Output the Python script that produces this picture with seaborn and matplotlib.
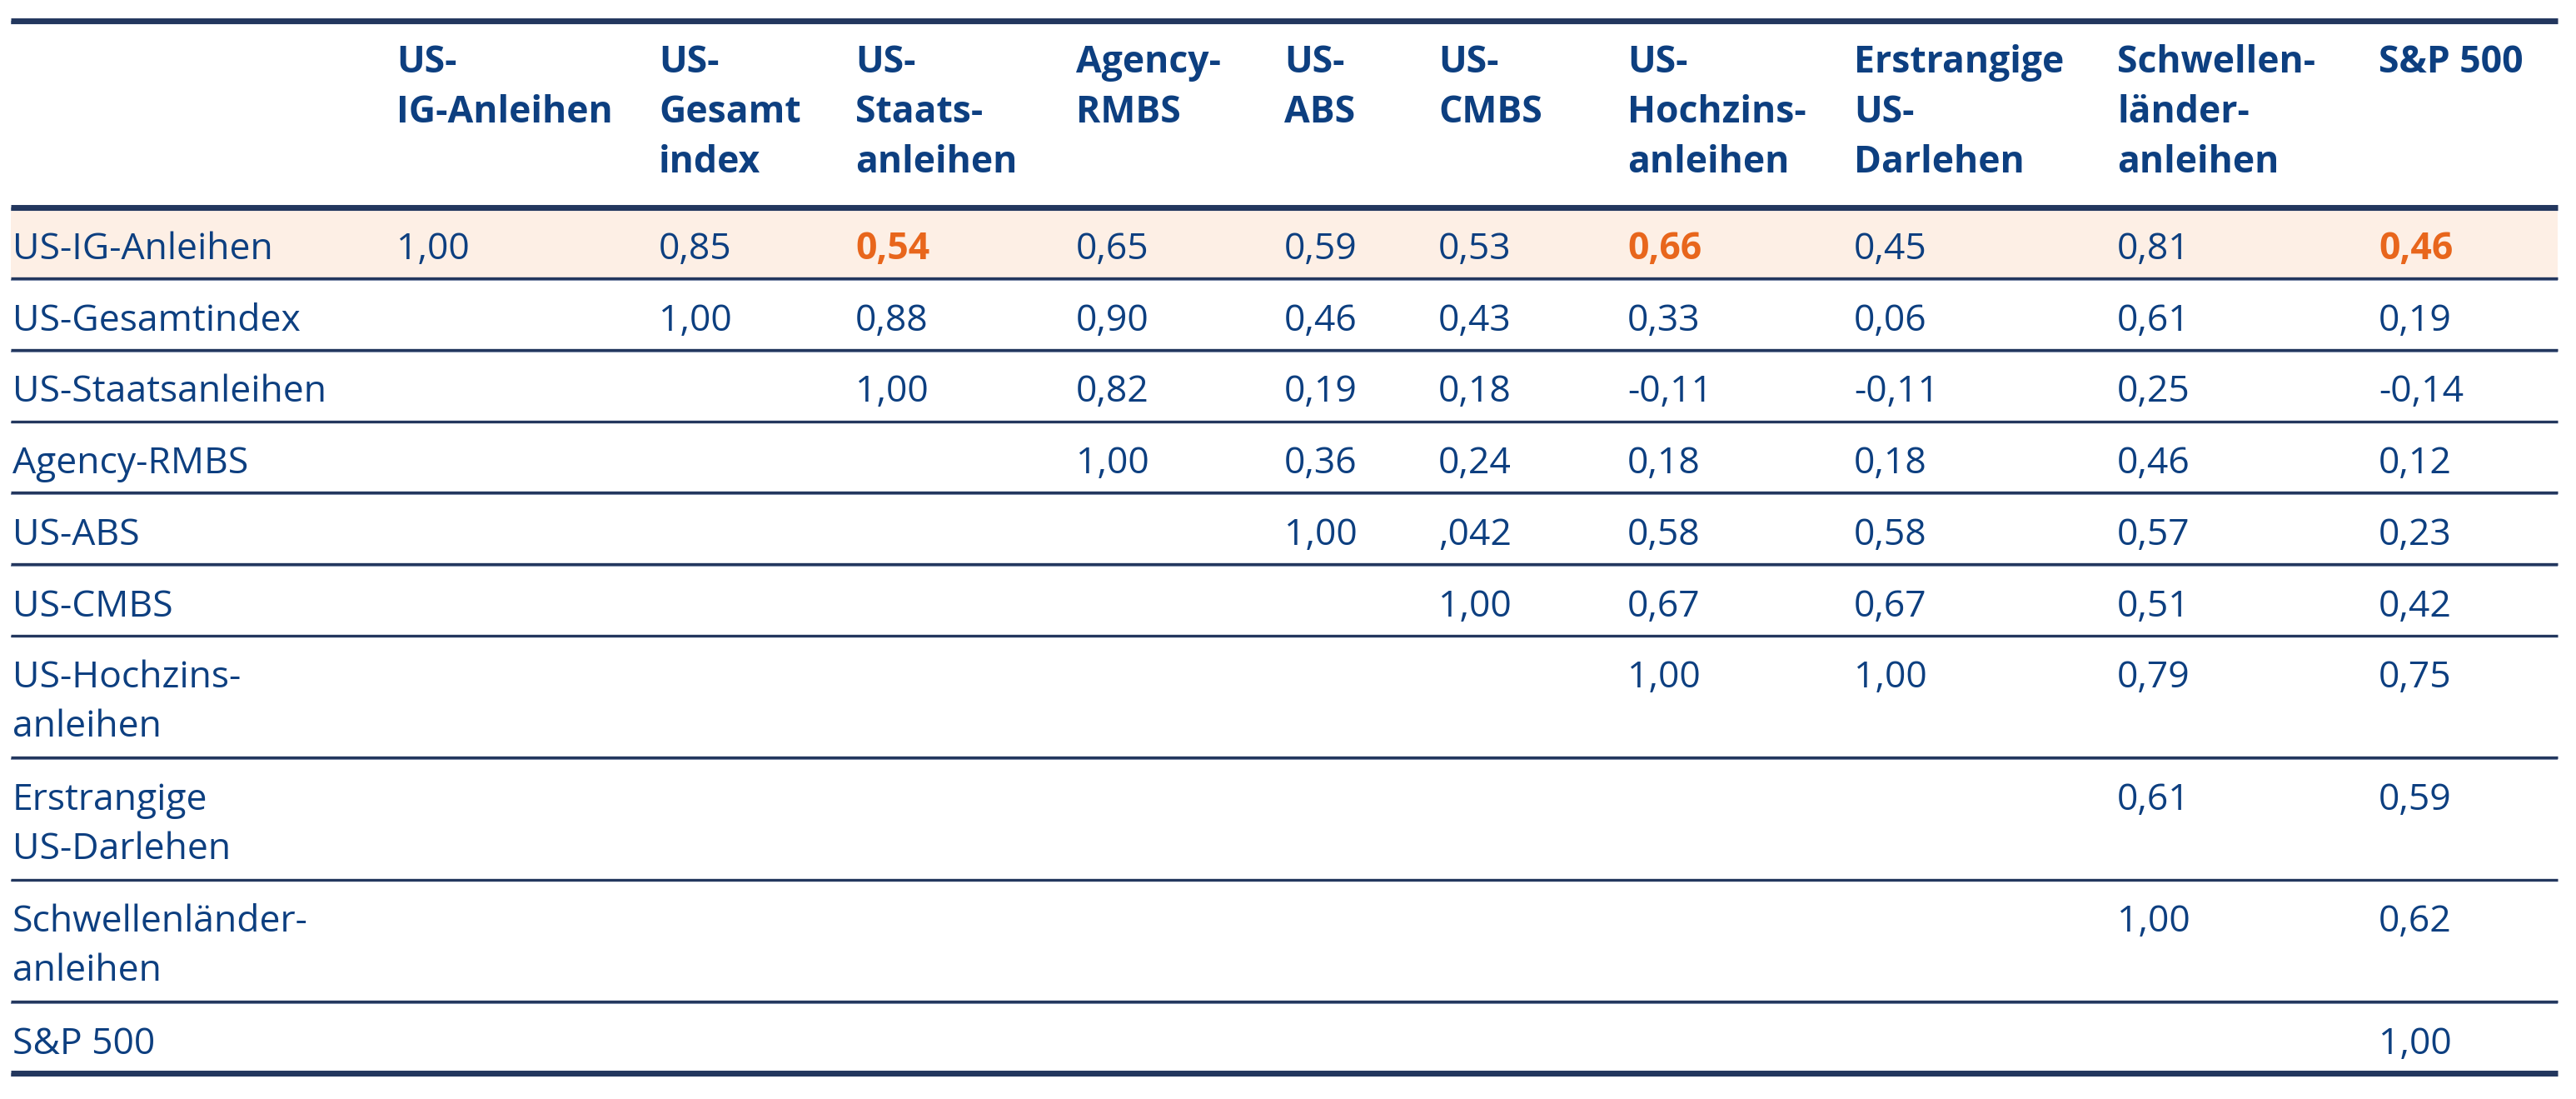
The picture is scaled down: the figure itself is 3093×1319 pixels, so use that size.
"""
Korrelationsmatrix US-Anleihensegmente / S&P 500 als Tabelle.
"""

import matplotlib
matplotlib.use("Agg")
import matplotlib.pyplot as plt
import seaborn as sns

# ── Data ──────────────────────────────────────────────────────────────────────

col_labels = [
    ["US-", "IG-Anleihen"],
    ["US-", "Gesamt", "index"],
    ["US-", "Staats-", "anleihen"],
    ["Agency-", "RMBS"],
    ["US-", "ABS"],
    ["US-", "CMBS"],
    ["US-", "Hochzins-", "anleihen"],
    ["Erstrangige", "US-", "Darlehen"],
    ["Schwellen-", "länder-", "anleihen"],
    ["S&P 500"],
]

row_labels = [
    ["US-IG-Anleihen"],
    ["US-Gesamtindex"],
    ["US-Staatsanleihen"],
    ["Agency-RMBS"],
    ["US-ABS"],
    ["US-CMBS"],
    ["US-Hochzins-", "anleihen"],
    ["Erstrangige", "US-Darlehen"],
    ["Schwellenländer-", "anleihen"],
    ["S&P 500"],
]

# cell texts as printed (German decimal comma, incl. ",042" as in the source)
row_ig = ["1,00", "0,85", "0,54", "0,65", "0,59", "0,53", "0,66", "0,45", "0,81", "0,46"]
row_gesamt = ["", "1,00", "0,88", "0,90", "0,46", "0,43", "0,33", "0,06", "0,61", "0,19"]
row_staats = ["", "", "1,00", "0,82", "0,19", "0,18", "-0,11", "-0,11", "0,25", "-0,14"]
row_rmbs = ["", "", "", "1,00", "0,36", "0,24", "0,18", "0,18", "0,46", "0,12"]
row_abs = ["", "", "", "", "1,00", ",042", "0,58", "0,58", "0,57", "0,23"]
row_cmbs = ["", "", "", "", "", "1,00", "0,67", "0,67", "0,51", "0,42"]
row_hy = ["", "", "", "", "", "", "1,00", "1,00", "0,79", "0,75"]
row_loans = ["", "", "", "", "", "", "", "", "0,61", "0,59"]
row_em = ["", "", "", "", "", "", "", "", "1,00", "0,62"]
row_spx = ["", "", "", "", "", "", "", "", "", "1,00"]

cells = [row_ig, row_gesamt, row_staats, row_rmbs, row_abs,
         row_cmbs, row_hy, row_loans, row_em, row_spx]

highlight_row = 0
highlight_cols = [2, 6, 9]   # orange bold values in the highlighted row

# ── Style / layout ────────────────────────────────────────────────────────────

BLUE = "#0d3f80"
ORANGE = "#e8661c"
PEACH = "#fdefe5"
RULE = "#23375e"
RULE_LIGHT = "#8e9cb8"

W, H = 3093, 1319
LEFT, RIGHT = 13, 3071
LABEL_X = 15
COL_X = [476, 791, 1027, 1292, 1542, 1727, 1954, 2226, 2542, 2856]

TOP_RULE = 25
HEADER_BOTTOM = 249
HEADER_BASE = 87
LINE_STEP = 60
ROW_H_SINGLE = 85.7
ROW_H_DOUBLE = 146.5
ROW_BASE_OFFSET = 62
ROW_LINE_STEP = 59
FS = 32

sns.set_theme(style="white")
plt.rcParams["font.family"] = ["Open Sans", "DejaVu Sans"]

fig = plt.figure(figsize=(W / 100, H / 100), dpi=100)
ax = fig.add_axes([0, 0, 1, 1])
ax.set_xlim(0, W)
ax.set_ylim(H, 0)
ax.axis("off")


def rule(y, thick):
    lw = 5.0 if thick else 2.4
    ax.plot([LEFT, RIGHT], [y + (1.8 if thick else 1.2)] * 2, color=RULE_LIGHT,
            lw=lw * 0.6, solid_capstyle="butt", zorder=2)
    ax.plot([LEFT, RIGHT], [y - 0.5] * 2, color=RULE, lw=lw,
            solid_capstyle="butt", zorder=3)


# row boundaries
tops = [HEADER_BOTTOM]
for lab in row_labels:
    tops.append(tops[-1] + (ROW_H_SINGLE if len(lab) == 1 else ROW_H_DOUBLE))

# highlighted row background
ax.axhspan(tops[highlight_row], tops[highlight_row + 1],
           xmin=LEFT / W, xmax=RIGHT / W, color=PEACH, lw=0, zorder=1)

# header
for x, lines in zip(COL_X, col_labels):
    for k, txt in enumerate(lines):
        ax.text(x, HEADER_BASE + k * LINE_STEP, txt, fontsize=FS, fontweight="bold",
                color=BLUE, va="baseline", ha="left")

# body
for i, (lab, vals) in enumerate(zip(row_labels, cells)):
    base = tops[i] + ROW_BASE_OFFSET
    for k, txt in enumerate(lab):
        ax.text(LABEL_X, base + k * ROW_LINE_STEP, txt, fontsize=FS, color=BLUE,
                va="baseline", ha="left")
    for j, (x, v) in enumerate(zip(COL_X, vals)):
        if not v:
            continue
        hot = i == highlight_row and j in highlight_cols
        ax.text(x, base, v, fontsize=FS, color=ORANGE if hot else BLUE,
                fontweight="bold" if hot else "normal", va="baseline", ha="left")

# rules
rule(TOP_RULE, True)
rule(HEADER_BOTTOM, True)
for y in tops[1:-1]:
    rule(y, False)
rule(tops[-1], True)

fig.savefig("out.png", dpi=100, facecolor="white")
plt.close(fig)
